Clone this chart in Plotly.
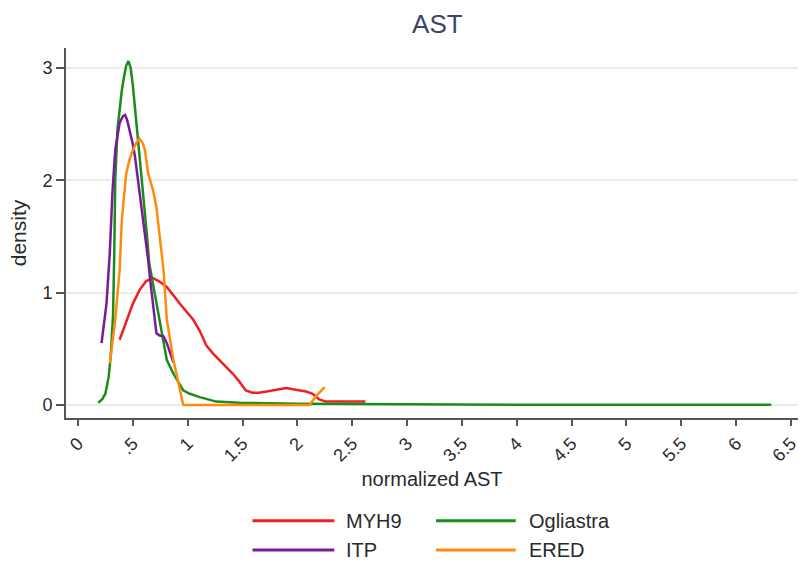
import plotly.graph_objects as go

# ---- data ----
myh9_x = [0.38, 0.44, 0.50, 0.56, 0.62, 0.68, 0.74, 0.81, 0.87, 0.93, 0.99, 1.05, 1.11, 1.17,
          1.23, 1.29, 1.35, 1.41, 1.47, 1.53, 1.59, 1.65, 1.72, 1.78, 1.84, 1.90, 1.96, 2.02,
          2.08, 2.14, 2.20, 2.26, 2.40, 2.62]
myh9_y = [0.58, 0.74, 0.90, 1.02, 1.10, 1.13, 1.10, 1.05, 0.97, 0.90, 0.83, 0.76, 0.66, 0.53,
          0.46, 0.40, 0.34, 0.28, 0.21, 0.13, 0.11, 0.11, 0.12, 0.13, 0.14, 0.15, 0.14, 0.13,
          0.12, 0.10, 0.05, 0.03, 0.03, 0.03]

ogl_x = [0.185, 0.22, 0.25, 0.28, 0.30, 0.32, 0.33, 0.34, 0.36, 0.38, 0.40, 0.42, 0.44, 0.46,
         0.48, 0.50, 0.52, 0.55, 0.58, 0.61, 0.63, 0.65, 0.68, 0.715, 0.75, 0.78, 0.81, 0.87,
         0.96, 1.02, 1.11, 1.26, 1.47, 2.0, 3.0, 4.0, 5.0, 6.32]
ogl_y = [0.02, 0.05, 0.10, 0.25, 0.45, 0.80, 1.30, 2.00, 2.45, 2.65, 2.80, 2.92, 3.02, 3.06,
         3.00, 2.85, 2.65, 2.36, 2.06, 1.76, 1.50, 1.26, 1.10, 0.90, 0.72, 0.58, 0.40, 0.28,
         0.13, 0.10, 0.07, 0.03, 0.02, 0.01, 0.005, 0.003, 0.002, 0.002]

itp_x = [0.215, 0.24, 0.26, 0.29, 0.30, 0.315, 0.34, 0.38, 0.41, 0.43, 0.45, 0.47, 0.50, 0.52,
         0.56, 0.59, 0.61, 0.64, 0.66, 0.685, 0.70, 0.715, 0.74, 0.78, 0.81, 0.84, 0.87]
itp_y = [0.55, 0.75, 0.90, 1.35, 1.60, 1.90, 2.27, 2.51, 2.57, 2.58, 2.53, 2.45, 2.32, 2.21,
         1.91, 1.70, 1.56, 1.29, 1.10, 0.90, 0.75, 0.64, 0.62, 0.61, 0.55, 0.47, 0.38]

ered_x = [0.29, 0.315, 0.34, 0.36, 0.38, 0.40, 0.42, 0.44, 0.47, 0.49, 0.53, 0.56, 0.59, 0.61,
          0.64, 0.665, 0.685, 0.715, 0.74, 0.78, 0.81, 0.84, 0.87, 0.92, 0.96, 1.5, 2.11, 2.18, 2.25]
ered_y = [0.37, 0.55, 0.76, 0.98, 1.20, 1.65, 1.88, 2.06, 2.18, 2.24, 2.33, 2.37, 2.33, 2.27,
          2.06, 1.98, 1.91, 1.76, 1.55, 1.20, 0.76, 0.58, 0.40, 0.18, 0.0, 0.0, 0.0, 0.09, 0.16]

x_tickvals = [0, 0.5, 1, 1.5, 2, 2.5, 3, 3.5, 4, 4.5, 5, 5.5, 6, 6.5]
x_ticktext = ["0", ".5", "1", "1.5", "2", "2.5", "3", "3.5", "4", "4.5", "5", "5.5", "6", "6.5"]
y_tickvals = [0, 1, 2, 3]

series = [
    ("MYH9", myh9_x, myh9_y, "#ee2020"),
    ("Ogliastra", ogl_x, ogl_y, "#1a8c1a"),
    ("ITP", itp_x, itp_y, "#7a1a9a"),
    ("ERED", ered_x, ered_y, "#ff8a10"),
]

FONT = "Liberation Sans, Arial, sans-serif"
fig = go.Figure()
for name, xs, ys, col in series:
    fig.add_trace(go.Scatter(x=xs, y=ys, mode="lines", name=name,
                             line=dict(color=col, width=2.5), showlegend=False))

# manual legend (two columns, long line samples)
leg_pos = [(0.2548, 0.3665, 0.3801, -0.278), (0.5054, 0.6144, 0.6294, -0.278),
           (0.2548, 0.3665, 0.3801, -0.357), (0.5054, 0.6144, 0.6294, -0.357)]
for (name, xs, ys, col), (x0, x1, xt, yy) in zip(series, leg_pos):
    fig.add_shape(type="line", xref="paper", yref="paper", x0=x0, x1=x1, y0=yy, y1=yy,
                  line=dict(color=col, width=3))
    fig.add_annotation(xref="paper", yref="paper", x=xt, y=yy, text=name, showarrow=False,
                       xanchor="left", yanchor="middle", font=dict(size=20, color="#2a2a2a", family=FONT))

fig.update_layout(
    width=801, height=566,
    margin=dict(l=66, r=1, t=48, b=148),
    paper_bgcolor="white", plot_bgcolor="white",
    font=dict(family=FONT, color="#2a2a2a"),
    title=dict(text="AST", x=0.546, xanchor="center", y=0.958, yanchor="middle", yref="container",
               font=dict(size=26, color="#3d4468", family=FONT)),
)
fig.update_xaxes(range=[-0.109, 6.564], tickvals=x_tickvals, ticktext=x_ticktext, tickangle=-45,
                 ticklabeloverflow="allow",
                 showline=True, linecolor="#555555", linewidth=2, ticks="outside", ticklen=6,
                 tickcolor="#555555", tickwidth=1.5, showgrid=False, zeroline=False,
                 tickfont=dict(size=18, color="#2a2a2a"),
                 title=dict(text="normalized AST", font=dict(size=20, color="#2a2a2a"), standoff=8))
fig.update_yaxes(range=[-0.1157, 3.176], tickvals=y_tickvals, showline=True, linecolor="#555555",
                 linewidth=2, ticks="outside", ticklen=8, tickcolor="#555555", tickwidth=1.5,
                 showgrid=True, gridcolor="#ebebeb", gridwidth=1.5, zeroline=False,
                 tickfont=dict(size=18, color="#2a2a2a"),
                 title=dict(text="density", font=dict(size=21, color="#2a2a2a"), standoff=10))

fig.write_html("out.html")
